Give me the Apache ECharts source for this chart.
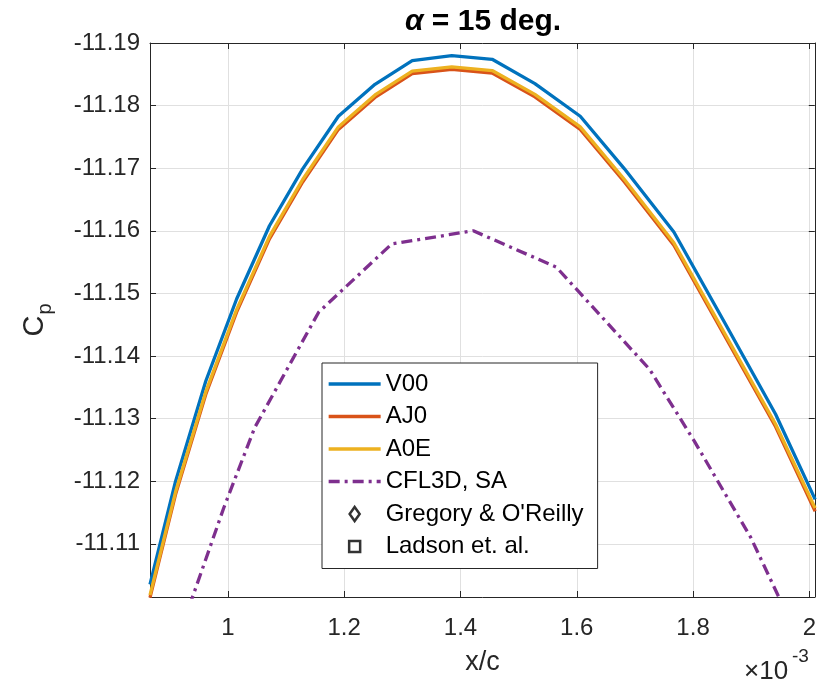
<!DOCTYPE html>
<html>
<head>
<meta charset="utf-8">
<script src="https://cdn.jsdelivr.net/npm/echarts@6/dist/echarts.min.js"></script>
<style>
  html, body { margin: 0; padding: 0; background: #fff; }
  #chart { width: 819px; height: 686px; }
</style>
</head>
<body>
<div id="chart"></div>
<script>
// x/c values in units of 1e-3
const xc_e3 = [0.866, 0.910, 0.962, 1.015, 1.0715, 1.1286, 1.190, 1.253, 1.317, 1.385, 1.4545, 1.528, 1.606, 1.682, 1.767, 1.8545, 1.942, 2.010];
const cpV00 = [-11.1035, -11.1200, -11.1360, -11.1491, -11.1608, -11.1699, -11.1783, -11.1834, -11.1872, -11.1880, -11.1874, -11.1835, -11.1783, -11.1699, -11.1598, -11.1453, -11.1307, -11.1171];
const cpAJ0 = [-11.1014, -11.1179, -11.1339, -11.1470, -11.1587, -11.1678, -11.1762, -11.1813, -11.1851, -11.1858, -11.1852, -11.1814, -11.1762, -11.1678, -11.1577, -11.1432, -11.1287, -11.1152];
const cpA0E = [-11.1018, -11.1183, -11.1343, -11.1474, -11.1591, -11.1682, -11.1766, -11.1817, -11.1855, -11.1862, -11.1856, -11.1818, -11.1766, -11.1682, -11.1581, -11.1436, -11.1291, -11.1157];
const cflX = [0.920, 0.9388, 0.9931, 1.0463, 1.1561, 1.2818, 1.4220, 1.5648, 1.7250, 1.8022, 1.8993, 1.948, 1.980];
const cflY = [-11.0964, -11.1014, -11.1158, -11.1286, -11.1470, -11.1579, -11.1600, -11.1542, -11.1379, -11.1264, -11.1110, -11.1014, -11.0951];
const gregoryX = [];
const gregoryY = [];
const ladsonX = [];
const ladsonY = [];
const seriesNames = ['V00', 'AJ0', 'A0E', 'CFL3D, SA', "Gregory & O'Reilly", 'Ladson et. al.'];

const X_MIN = 0.866, X_MAX = 2.0094;
const Y_MIN = -11.19, Y_MAX = -11.1015;

const FONT = '"Liberation Sans", Arial, Helvetica, sans-serif';
const AX = '#262626';
const LW = 3.3;

const DIAMOND = 'path://M5,0L10,7L5,14L0,7Z';
const SQUARE = 'path://M0,0M1.5,1.5L12.5,1.5L12.5,12.5L1.5,12.5ZM14,14';

function pairs(xs, ys) { return xs.map((x, i) => [x, ys[i]]); }

const chart = echarts.init(document.getElementById('chart'), null, { renderer: 'canvas' });

const baseX = {
  type: 'value', min: X_MIN, max: X_MAX, minInterval: 0.2, maxInterval: 0.2,
  axisLine: { show: true, onZero: false, lineStyle: { color: AX, width: 1 } },
  axisTick: { show: true, inside: true, length: 6, lineStyle: { color: AX } },
};
const baseY = {
  type: 'value', inverse: true, min: Y_MIN, max: Y_MAX, interval: 0.01,
  axisLine: { show: true, onZero: false, lineStyle: { color: AX, width: 1 } },
  axisTick: { show: true, inside: true, length: 6, lineStyle: { color: AX } },
};

const option = {
  animation: false,
  backgroundColor: '#fff',
  title: {
    text: '{a|α} = 15 deg.',
    left: 478, top: 2, textAlign: 'center',
    textStyle: {
      fontFamily: FONT, fontSize: 30, fontWeight: 'bold', color: '#000',
      rich: { a: { fontFamily: FONT, fontSize: 30, fontWeight: 'bold', fontStyle: 'italic', color: '#000' } }
    }
  },
  grid: { left: 150, right: 1.5, top: 43, bottom: 89, containLabel: false },
  xAxis: [
    Object.assign({}, baseX, {
      position: 'bottom',
      name: 'x/c', nameLocation: 'middle', nameGap: 52,
      nameTextStyle: { fontFamily: FONT, fontSize: 27, color: AX },
      axisLabel: {
        show: true, margin: 19, fontFamily: FONT, fontSize: 24, color: AX,
        showMinLabel: false, showMaxLabel: false,
        formatter: v => (Math.round(v * 10) / 10).toString()
      },
      splitLine: { show: true, lineStyle: { color: '#e0e0e0', width: 1 } }
    }),
    Object.assign({}, baseX, {
      position: 'top', axisLabel: { show: false }, splitLine: { show: false }
    })
  ],
  yAxis: [
    Object.assign({}, baseY, {
      position: 'left',
      name: '{c|C}{p|p}', nameLocation: 'middle', nameGap: 100, nameRotate: 90,
      nameTextStyle: {
        fontFamily: FONT, fontSize: 28, color: AX,
        rich: {
          c: { fontFamily: FONT, fontSize: 29, color: AX, lineHeight: 30, verticalAlign: 'top' },
          p: { fontFamily: FONT, fontSize: 20, color: AX, lineHeight: 20, padding: [15, 0, 0, 1], verticalAlign: 'top' }
        }
      },
      axisLabel: {
        show: true, margin: 10, fontFamily: FONT, fontSize: 24, color: AX,
        showMaxLabel: false,
        formatter: v => v.toFixed(2)
      },
      splitLine: { show: true, lineStyle: { color: '#e0e0e0', width: 1 } }
    }),
    Object.assign({}, baseY, {
      position: 'right', axisLabel: { show: false }, splitLine: { show: false }
    })
  ],
  legend: {
    orient: 'vertical', left: 322, top: 363,
    padding: [9, 14, 10, 5],
    itemWidth: 52, itemHeight: 14, itemGap: 8.5,
    borderColor: AX, borderWidth: 1, backgroundColor: '#fff',
    lineStyle: { width: LW },
    textStyle: { fontFamily: FONT, fontSize: 24, color: '#000' },
    data: [
      { name: seriesNames[0], itemStyle: { opacity: 0 } },
      { name: seriesNames[1], itemStyle: { opacity: 0 } },
      { name: seriesNames[2], itemStyle: { opacity: 0 } },
      { name: seriesNames[3], itemStyle: { opacity: 0 } },
      { name: seriesNames[4], icon: DIAMOND, itemStyle: { color: '#fff', borderColor: '#000', borderWidth: 2.5 } },
      { name: seriesNames[5], icon: SQUARE, itemStyle: { color: '#fff', borderColor: '#000', borderWidth: 2.5 } }
    ]
  },
  series: [
    {
      name: seriesNames[0], type: 'line', data: pairs(xc_e3, cpV00), symbol: 'none',
      lineStyle: { color: '#0072BD', width: LW }, itemStyle: { color: '#0072BD' }
    },
    {
      name: seriesNames[1], type: 'line', data: pairs(xc_e3, cpAJ0), symbol: 'none',
      lineStyle: { color: '#D95319', width: LW }, itemStyle: { color: '#D95319' }
    },
    {
      name: seriesNames[2], type: 'line', data: pairs(xc_e3, cpA0E), symbol: 'none',
      lineStyle: { color: '#EDB120', width: LW }, itemStyle: { color: '#EDB120' }
    },
    {
      name: seriesNames[3], type: 'line', data: pairs(cflX, cflY), symbol: 'none',
      lineStyle: { color: '#7E2F8E', width: LW, type: [11, 5, 3, 5] }, itemStyle: { color: '#7E2F8E' }
    },
    {
      name: seriesNames[4], type: 'scatter', data: pairs(gregoryX, gregoryY),
      symbol: DIAMOND, symbolSize: 14,
      itemStyle: { color: '#fff', borderColor: '#000', borderWidth: 2.5 }
    },
    {
      name: seriesNames[5], type: 'scatter', data: pairs(ladsonX, ladsonY),
      symbol: SQUARE, symbolSize: 14,
      itemStyle: { color: '#fff', borderColor: '#000', borderWidth: 2.5 }
    }
  ],
  graphic: [
    {
      type: 'text', left: 744, top: 659,
      style: { text: '×10', fontFamily: FONT, fontSize: 26, fill: AX }
    },
    {
      type: 'text', left: 792, top: 647,
      style: { text: '-3', fontFamily: FONT, fontSize: 19, fill: AX }
    }
  ]
};
chart.setOption(option);
</script>
</body>
</html>
